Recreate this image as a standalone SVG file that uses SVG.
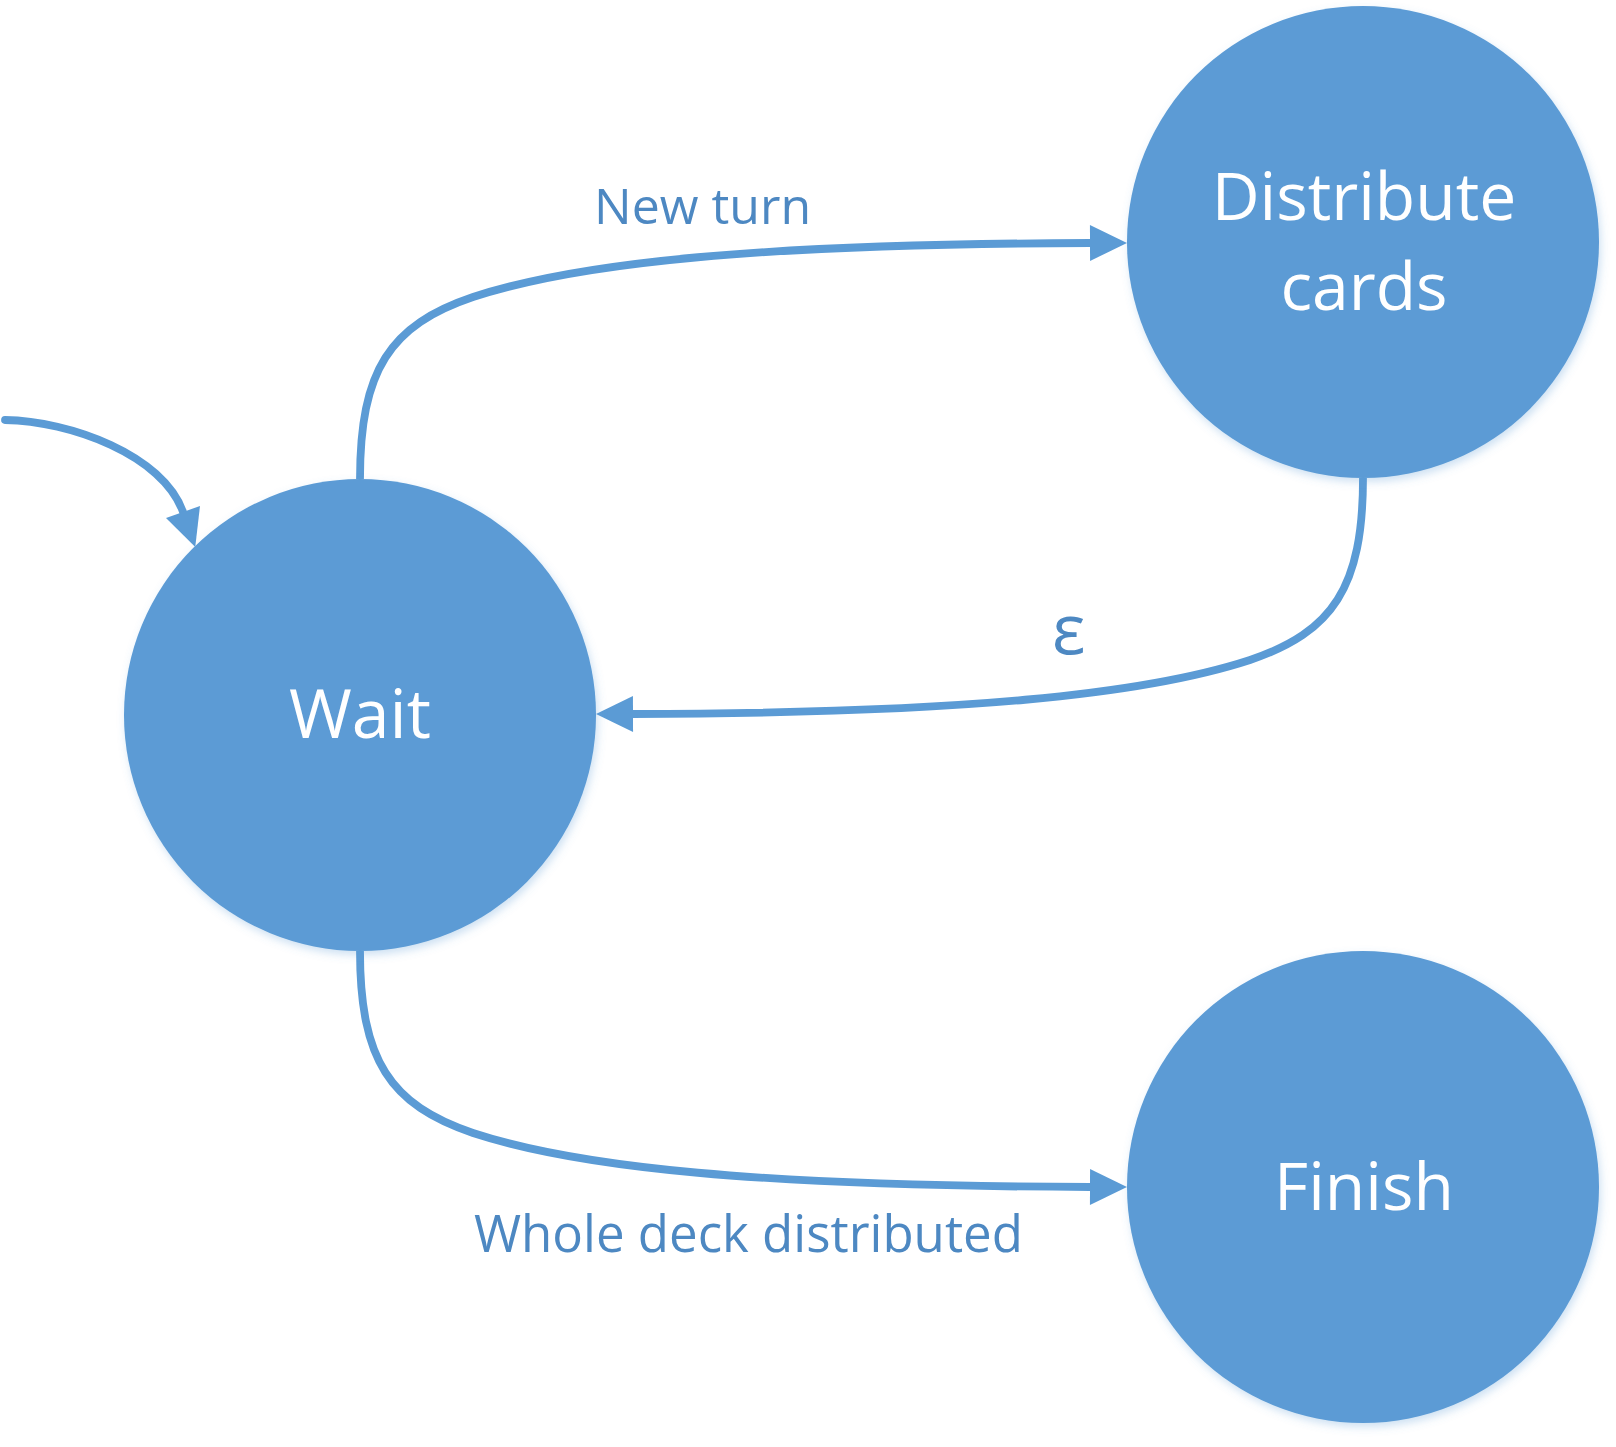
<svg xmlns="http://www.w3.org/2000/svg" width="1616" height="1447" viewBox="0 0 1616 1447">
  <style>
    .state { fill: #5B9BD5; filter: url(#shadow); }
    .state-label { font-family: "Open Sans", "Noto Sans", sans-serif; font-size: 66px; fill: #FFFFFF; text-anchor: middle; }
    .edge { fill: none; stroke: #5B9BD5; stroke-width: 7.8; }
    .edge-label { font-family: "Open Sans", "Noto Sans", sans-serif; font-size: 50px; fill: #4D88C2; }
  </style>
  <defs>
    <filter id="shadow" x="-10%" y="-10%" width="125%" height="125%">
      <feDropShadow dx="2" dy="4" stdDeviation="4" flood-color="#5B9BD5" flood-opacity="0.3"/>
    </filter>
    <marker id="arrow" markerUnits="userSpaceOnUse" viewBox="0 -20 40 40" refX="0" refY="0" markerWidth="40" markerHeight="40" orient="auto" overflow="visible">
      <path d="M0,-18 L37,0 L0,18 Z" fill="#5B9BD5"/>
    </marker>
  </defs>
  <rect width="1616" height="1447" fill="#FFFFFF"/>

  <g id="connectors">
    <path id="edge-initial" class="edge" stroke-linecap="round" d="M5,420 C70,421 163,455 183,512" marker-end="url(#arrow)"/>
    <path id="edge-newturn" class="edge" d="M360,479 C360,370 390,325 473,297 C580,262 760,244 1090,243" marker-end="url(#arrow)"/>
    <path id="edge-epsilon" class="edge" d="M1363,478 C1363,587 1333,632 1250,660 C1143,695 963,713 633,714" marker-end="url(#arrow)"/>
    <path id="edge-finish" class="edge" d="M360,951 C360,1060 390,1105 473,1133 C580,1168 760,1186 1090,1187" marker-end="url(#arrow)"/>
    <text class="edge-label" x="594" y="224">New turn</text>
    <text class="edge-label" x="1052" y="654" style="font-size:70px">ε</text>
    <text class="edge-label" x="474" y="1252" style="font-size:51px">Whole deck distributed</text>
  </g>

  <g id="node-wait">
    <circle class="state" cx="360" cy="715" r="236"/>
    <text class="state-label" x="360" y="738" style="font-size:68px">Wait</text>
  </g>
  <g id="node-distribute">
    <circle class="state" cx="1363" cy="242" r="236"/>
    <text class="state-label" x="1364" y="220">Distribute</text>
    <text class="state-label" x="1364" y="310">cards</text>
  </g>
  <g id="node-finish">
    <circle class="state" cx="1363" cy="1187" r="236"/>
    <text class="state-label" x="1364" y="1210">Finish</text>
  </g>
</svg>
